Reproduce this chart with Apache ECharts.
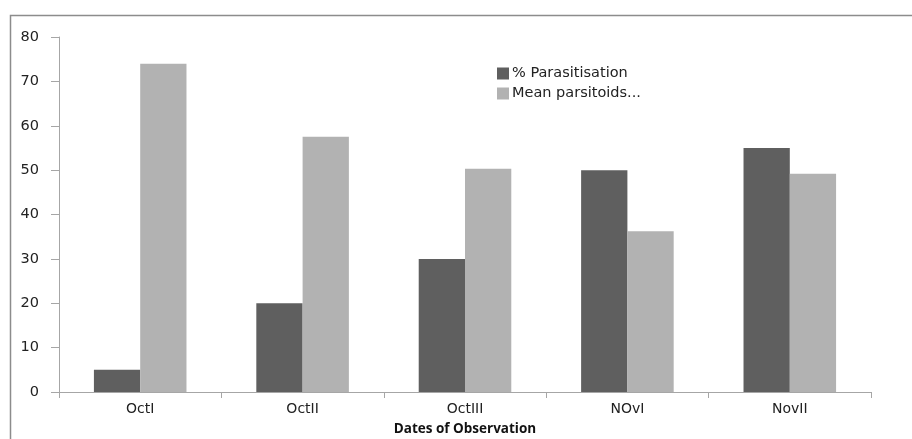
<!DOCTYPE html>
<html>
<head>
<meta charset="utf-8">
<script src="https://cdn.jsdelivr.net/npm/echarts@6/dist/echarts.min.js"></script>
<style>html,body{margin:0;padding:0;background:#fff;}#c{width:912px;height:439px;}</style>
</head>
<body>
<div id="c"></div>
<script>
const categories = ['OctI', 'OctII', 'OctIII', 'NOvI', 'NovII'];
const parasitisation = [5, 20, 30, 50, 55];
const meanParasitoids = [74, 57.5, 50.3, 36.2, 49.2];
const yTicks = [0, 10, 20, 30, 40, 50, 60, 70, 80];

const chart = echarts.init(document.getElementById('c'), null, {renderer: 'canvas'});
const font = 'DejaVu Sans';
chart.setOption({
  animation: false,
  backgroundColor: '#fff',
  graphic: [{
    type: 'rect', left: 8, top: 13, z: -1,
    shape: {x: 0, y: 0, width: 1000, height: 1000},
    style: {fill: 'none', stroke: '#8c8c8c', lineWidth: 1.5}
  }],
  grid: {left: 59, right: 41, top: 37, bottom: 47, containLabel: false, outerBoundsMode: 'none'},
  legend: {
    orient: 'vertical', left: 492, top: 61,
    itemWidth: 12, itemHeight: 12, itemGap: 5,
    icon: 'rect',
    textStyle: {fontFamily: font, fontSize: 14.5, color: '#222', padding: [0, 0, 0, -2]},
    data: ['% Parasitisation', 'Mean parsitoids...']
  },
  xAxis: {
    type: 'category', data: categories,
    name: 'Dates of Observation', nameLocation: 'middle', nameGap: 30,
    nameTextStyle: {fontFamily: 'Open Sans', fontWeight: 'bold', fontSize: 13.5, color: '#111'},
    axisLine: {lineStyle: {color: '#a6a6a6', width: 1}},
    axisTick: {show: true, length: 6, lineStyle: {color: '#a6a6a6'}},
    axisLabel: {fontFamily: font, fontSize: 14, color: '#222', margin: 10}
  },
  yAxis: {
    type: 'value', min: yTicks[0], max: yTicks[yTicks.length - 1], interval: 10,
    axisLine: {show: true, lineStyle: {color: '#a6a6a6', width: 1}},
    axisTick: {show: true, length: 8, lineStyle: {color: '#a6a6a6'}},
    splitLine: {show: false},
    axisLabel: {fontFamily: font, fontSize: 14.5, color: '#222', margin: 20}
  },
  series: [
    {name: '% Parasitisation', type: 'bar', data: parasitisation,
     itemStyle: {color: '#5f5f5f'}, barGap: '0%', barCategoryGap: '43%'},
    {name: 'Mean parsitoids...', type: 'bar', data: meanParasitoids,
     itemStyle: {color: '#b2b2b2'}, barGap: '0%', barCategoryGap: '43%'}
  ]
});
</script>
</body>
</html>
